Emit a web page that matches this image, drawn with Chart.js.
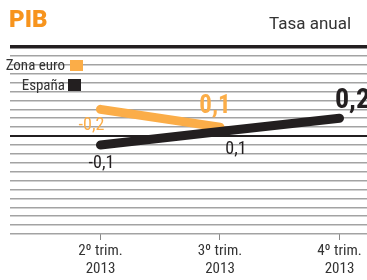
<!DOCTYPE html>
<html>
<head>
<meta charset="utf-8">
<script src="https://cdn.jsdelivr.net/npm/chart.js@4/dist/chart.umd.min.js"></script>
<style>
  html, body { margin: 0; padding: 0; background: #fff; }
  #wrap { width: 367px; height: 280px; position: relative; }
</style>
</head>
<body>
<div id="wrap"><canvas id="pib"></canvas></div>
<script>
// Data
const categories = [['2º trim.', '2013'], ['3º trim.', '2013'], ['4º trim.', '2013']];
const zonaEuro = [0.3, 0.1, null];
const espana = [-0.1, 0.05, 0.2];
const zonaEuroLabels = ['-0,2', '0,1', null];
const espanaLabels = ['-0,1', '0,1', '0,2'];

const ORANGE = '#fbad48';
const TITLE_ORANGE = '#f7941d';
const BLACK = '#231f20';
const NARROW = '"Roboto Condensed", "DejaVu Sans Condensed", sans-serif';

function toPoints(values) {
    return values.map((v, i) => ({ x: i, y: v }));
}

// Title, legend and value labels drawn on the canvas
const decorations = {
    id: 'decorations',
    afterDatasetsDraw(chart) {
        const ctx = chart.ctx;
        const xs = chart.scales.x, ys = chart.scales.y;
        ctx.save();

        // title
        ctx.textBaseline = 'alphabetic';
        ctx.fillStyle = TITLE_ORANGE;
        ctx.font = '900 24px Roboto, sans-serif';
        ctx.textAlign = 'left';
        ctx.fillText('PIB', 9, 27);
        ctx.fillStyle = '#333';
        ctx.font = '17px Roboto, sans-serif';
        ctx.fillText('Tasa anual', 269, 29);

        // legend
        ctx.font = '15px ' + NARROW;
        ctx.textAlign = 'right';
        ctx.fillStyle = '#333';
        ctx.fillText('Zona euro', 65, 70);
        ctx.fillText('España', 65, 90);
        ctx.fillStyle = ORANGE;
        ctx.fillRect(70, 60, 13, 11);
        ctx.fillStyle = BLACK;
        ctx.fillRect(68, 79, 13, 12);

        // value labels
        ctx.textAlign = 'center';
        ctx.textBaseline = 'middle';
        const label = (txt, i, v, dx, dy, font, color) => {
            if (txt == null || v == null) return;
            ctx.font = font;
            ctx.fillStyle = color;
            ctx.fillText(txt, xs.getPixelForValue(i) + dx, ys.getPixelForValue(v) + dy);
        };
        label(zonaEuroLabels[0], 0, zonaEuro[0], -9, 16, '18px ' + NARROW, ORANGE);
        label(zonaEuroLabels[1], 1, zonaEuro[1], -5, -20, 'bold 25px ' + NARROW, ORANGE);
        label(espanaLabels[0], 0, espana[0], 1, 19, '18px ' + NARROW, BLACK);
        label(espanaLabels[1], 1, espana[1], 16, 18, '18px ' + NARROW, BLACK);
        label(espanaLabels[2], 2, espana[2], 13, -17, 'bold 28px ' + NARROW, BLACK);
        ctx.restore();
    }
};

new Chart(document.getElementById('pib'), {
    type: 'line',
    data: {
        datasets: [
            {
                label: 'España',
                data: toPoints(espana),
                borderColor: BLACK,
                borderWidth: 9,
                borderCapStyle: 'round',
                borderJoinStyle: 'round',
                pointRadius: 0,
                tension: 0
            },
            {
                label: 'Zona euro',
                data: toPoints(zonaEuro),
                borderColor: ORANGE,
                borderWidth: 9,
                borderCapStyle: 'round',
                borderJoinStyle: 'round',
                pointRadius: 0,
                tension: 0
            }
        ]
    },
    options: {
        responsive: true,
        maintainAspectRatio: false,
        animation: false,
        layout: { padding: { left: 10, top: 47, right: 0, bottom: 0 } },
        plugins: {
            legend: { display: false },
            tooltip: { enabled: false }
        },
        scales: {
            x: {
                type: 'linear',
                min: -0.757,
                max: 2.23,
                afterBuildTicks: axis => { axis.ticks = categories.map((c, i) => ({ value: i })); },
                grid: {
                    drawOnChartArea: false,
                    drawTicks: true,
                    tickLength: 6,
                    color: '#888',
                    lineWidth: 1
                },
                border: { display: false },
                ticks: {
                    color: '#333',
                    font: { family: NARROW, size: 15 },
                    padding: 2,
                    maxRotation: 0,
                    callback: value => categories[value]
                }
            },
            y: {
                min: -1.1,
                max: 1.0,
                ticks: { display: false, stepSize: 0.1 },
                border: { display: false },
                grid: {
                    drawTicks: false,
                    color: c => {
                        const v = c.tick.value;
                        if (Math.abs(v) < 1e-6 || Math.abs(v - 1) < 1e-6) return BLACK;
                        return '#a3a3a3';
                    },
                    lineWidth: c => {
                        const v = c.tick.value;
                        if (Math.abs(v - 1) < 1e-6) return 3.5;
                        if (Math.abs(v) < 1e-6) return 2;
                        return 1.5;
                    }
                }
            }
        }
    },
    plugins: [decorations]
});
</script>
</body>
</html>
